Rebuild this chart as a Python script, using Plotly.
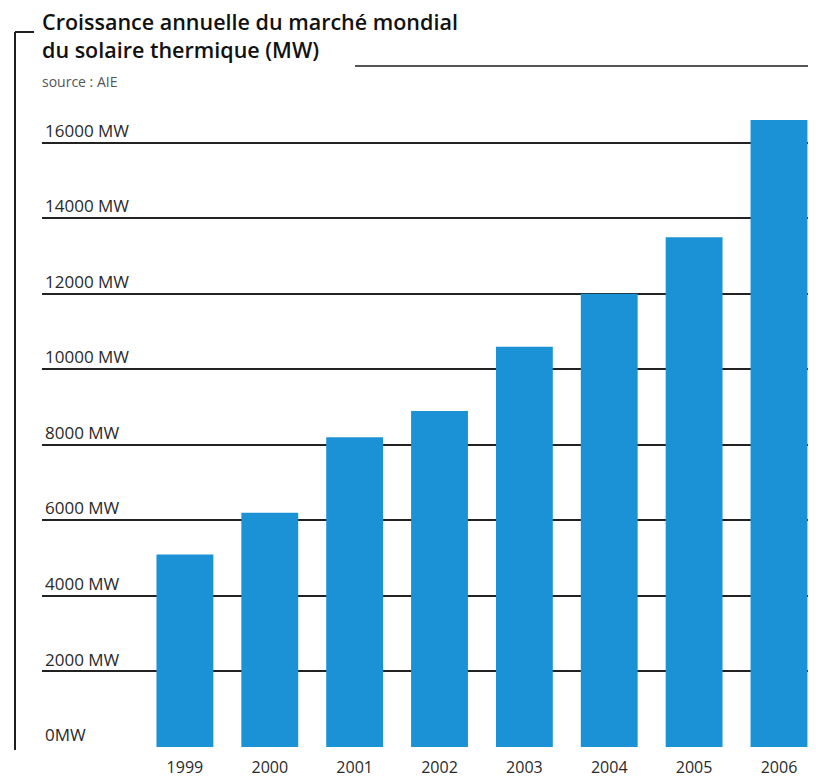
import plotly.graph_objects as go

years = ["1999", "2000", "2001", "2002", "2003", "2004", "2005", "2006"]
capacity_mw = [5100, 6200, 8200, 8900, 10600, 12000, 13500, 16600]
y_tick_values = [0, 2000, 4000, 6000, 8000, 10000, 12000, 14000, 16000]
y_tick_labels = ["0MW", "2000 MW", "4000 MW", "6000 MW", "8000 MW",
                 "10000 MW", "12000 MW", "14000 MW", "16000 MW"]

title_lines = ["Croissance annuelle du marché mondial",
               "du solaire thermique (MW)"]
source_text = "source : AIE"

# page body margin is removed, so figure fills the 816x780 window;
# plot area lands at x 42..808, y 105..747
W, H = 816, 780
L, R, T, B = 42, 8, 105, 33
pw, ph = W - L - R, H - T - B

def px_x(p):
    return (p - L) / pw

def px_y(p):
    return (H - B - p) / ph

FONT = "Open Sans"
BAR = "#1b91d6"
INK = "#1e1e1e"

fig = go.Figure(go.Bar(
    x=years, y=capacity_mw,
    marker=dict(color=BAR, line=dict(width=0)),
    width=0.67,
))

fig.update_layout(
    width=W, height=H,
    margin=dict(l=L, r=R, t=T, b=B, autoexpand=False),
    paper_bgcolor="white", plot_bgcolor="white",
    showlegend=False,
    font=dict(family=FONT, color=INK),
    xaxis=dict(
        type="category",
        range=[-1.684, 7.342],
        showgrid=False, zeroline=False, showline=False,
        ticks="", tickfont=dict(size=16, color="#2a2a2a", family=FONT),
        ticklabelstandoff=9, automargin=False,
        fixedrange=True,
    ),
    yaxis=dict(
        range=[0, 17000],
        tickvals=y_tick_values, ticktext=y_tick_labels,
        ticklabelposition="inside top",
        tickfont=dict(size=17, color="#2a2a2a", family=FONT),
        showgrid=True, gridcolor="#222222", gridwidth=1.6,
        zeroline=False, showline=False, ticks="", automargin=False,
        fixedrange=True,
    ),
    shapes=[
        dict(type="line", xref="paper", yref="paper",
             x0=px_x(355), x1=1, y0=px_y(66), y1=px_y(66),
             line=dict(color=INK, width=1.6)),
        dict(type="line", xref="paper", yref="paper",
             x0=px_x(15), x1=px_x(15), y0=px_y(32), y1=px_y(750),
             line=dict(color=INK, width=2)),
        dict(type="line", xref="paper", yref="paper",
             x0=px_x(15), x1=px_x(34), y0=px_y(32), y1=px_y(32),
             line=dict(color=INK, width=2)),
    ],
    annotations=[
        dict(text="<br>".join(title_lines), xref="paper", yref="paper",
             x=px_x(40), y=px_y(35), xanchor="left", yanchor="middle",
             align="left", showarrow=False,
             font=dict(size=21.5, color="#111111", family=FONT, weight=600)),
        dict(text=source_text, xref="paper", yref="paper",
             x=px_x(40), y=px_y(81), xanchor="left", yanchor="middle",
             showarrow=False, font=dict(size=14, color="#555555", family=FONT)),
    ],
)

fig.write_html(
    "out.html",
    config={"displayModeBar": False},
    post_script="document.body.style.margin='0px';",
)
